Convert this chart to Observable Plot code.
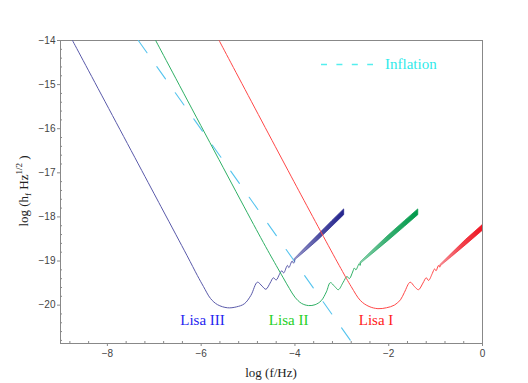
<!DOCTYPE html>
<html><head><meta charset="utf-8">
<script src="https://cdn.jsdelivr.net/npm/d3@7"></script>
<script src="https://cdn.jsdelivr.net/npm/@observablehq/plot@0.6"></script>
<style>body{margin:0;background:#fff} svg{display:block}</style>
</head><body><div id="chart"></div>
<script>
// log f, log h
const lisa3 = [
  [-8.744,-14.0],[-6.86,-17.76],[-6.30,-18.88],[-6.08,-19.33],[-5.95,-19.58],[-5.80,-19.85],
  [-5.65,-19.99],[-5.44,-20.06],[-5.25,-20.04],[-5.08,-19.97],[-4.94,-19.78],[-4.80,-19.48],
  [-4.70,-19.57],[-4.62,-19.64],[-4.53,-19.50],[-4.46,-19.38],[-4.40,-19.43],[-4.33,-19.30],
  [-4.28,-19.22],[-4.24,-19.27],[-4.16,-19.10],[-4.13,-19.15],[-4.06,-19.00],[-4.03,-19.05],[-4.00,-18.97]
];
const lisa3Band = [[-4.00,-18.99,-18.95],[-3.80,-18.81,-18.73],[-3.50,-18.53,-18.41],[-3.20,-18.22,-18.09],[-2.95,-17.96,-17.83]];

const lisa2 = [
  [-6.97,-14.0],[-4.73,-18.47],[-4.40,-19.10],[-4.25,-19.38],[-4.12,-19.62],[-4.00,-19.82],
  [-3.86,-19.96],[-3.71,-20.01],[-3.57,-19.99],[-3.44,-19.90],[-3.33,-19.70],[-3.245,-19.49],
  [-3.15,-19.58],[-3.075,-19.65],[-2.97,-19.48],[-2.89,-19.35],[-2.84,-19.40],[-2.77,-19.25],
  [-2.733,-19.16],[-2.70,-19.20],[-2.63,-19.06],[-2.61,-19.10],[-2.60,-19.05]
];
const lisa2Band = [[-2.60,-19.07,-19.03],[-2.35,-18.85,-18.77],[-2.00,-18.54,-18.42],[-1.65,-18.22,-18.09],[-1.37,-17.96,-17.83]];

const lisa1 = [
  [-5.617,-14.0],[-3.87,-17.50],[-3.02,-19.17],[-2.80,-19.58],[-2.60,-19.90],[-2.42,-20.03],
  [-2.23,-20.08],[-2.05,-20.06],[-1.88,-20.00],[-1.75,-19.88],[-1.665,-19.71],[-1.543,-19.48],
  [-1.45,-19.58],[-1.365,-19.65],[-1.27,-19.50],[-1.20,-19.38],[-1.15,-19.44],[-1.07,-19.28],
  [-1.023,-19.18],[-0.99,-19.22],[-0.94,-19.10],[-0.915,-19.14],[-0.90,-19.11]
];
const lisa1Band = [[-0.90,-19.13,-19.09],[-0.65,-18.91,-18.83],[-0.35,-18.64,-18.52],[0.0,-18.32,-18.19]];

const inflation = [[-7.34,-14.0],[-2.77,-20.87]];

const curveLabels = [
  {name:"Lisa III", f:-5.97, h:-20.34},
  {name:"Lisa II", f:-4.135, h:-20.34},
  {name:"Lisa I", f:-2.27, h:-20.34}
];
const labelColors = ["#2525f0","#25d025","#ff2020"];

const xMajor = [-8,-6,-4,-2,0];
const xMinor = [-8.8,-8.4,-7.6,-7.2,-6.8,-6.4,-5.6,-5.2,-4.8,-4.4,-3.6,-3.2,-2.8,-2.4,-1.6,-1.2,-0.8,-0.4];
const yMajor = [-20,-19,-18,-17,-16,-15,-14];
const yMinor = [-20.8,-20.6,-20.4,-20.2,-19.8,-19.6,-19.4,-19.2,-18.8,-18.6,-18.4,-18.2,-17.8,-17.6,-17.4,-17.2,
  -16.8,-16.6,-16.4,-16.2,-15.8,-15.6,-15.4,-15.2,-14.8,-14.6,-14.4,-14.2];

const P = a => a.map(d => ({f:d[0], h:d[1]}));
const B = a => a.map(d => ({f:d[0], lo:d[1], hi:d[2]}));

const bandColors = {g3: "#23238c", g2: "#00994a", g1: "#ee1522"};
const defs = () => {
  const d = d3.create("svg:defs");
  for (const [id, c] of Object.entries(bandColors)) {
    const g = d.append("linearGradient").attr("id", id).attr("x1", 0).attr("x2", 1).attr("y1", 0).attr("y2", 0);
    g.append("stop").attr("offset", 0).attr("stop-color", c).attr("stop-opacity", 0.45);
    g.append("stop").attr("offset", 0.5).attr("stop-color", c).attr("stop-opacity", 0.8);
    g.append("stop").attr("offset", 1).attr("stop-color", c).attr("stop-opacity", 1);
  }
  return d.node();
};

const W = 528, H = 383, ML = 60, MR = 46, MT = 40, MB = 40;
const chart = Plot.plot({
  width: W, height: H, marginLeft: ML, marginRight: MR, marginTop: MT, marginBottom: MB,
  x: {domain: [-9, 0]},
  y: {domain: [-20.87, -14]},
  style: {fontFamily: "'Liberation Sans', Arial, sans-serif", fontSize: "10px", color: "#444", background: "#fff"},
  marks: [
    defs,
    Plot.ruleX(xMinor, {stroke: "#888", insetTop: H - MT - MB - 2}),
    Plot.ruleY(yMinor, {stroke: "#888", insetRight: W - ML - MR - 2}),
    Plot.axisX(xMajor, {tickSize: 3, tickPadding: 3, label: null, stroke: "#888"}),
    Plot.axisY(yMajor, {tickSize: 3, tickPadding: 2, label: null, stroke: "#888"}),
    Plot.frame({stroke: "#888"}),
    Plot.line(P(inflation), {x: "f", y: "h", stroke: "#55c4ee", strokeWidth: 1.1, strokeDasharray: "15,17", clip: true}),
    Plot.areaY(B(lisa3Band), {x: "f", y1: "lo", y2: "hi", fill: "url(#g3)", stroke: "url(#g3)", strokeWidth: 0.8, clip: true}),
    Plot.areaY(B(lisa2Band), {x: "f", y1: "lo", y2: "hi", fill: "url(#g2)", stroke: "url(#g2)", strokeWidth: 0.8, clip: true}),
    Plot.areaY(B(lisa1Band), {x: "f", y1: "lo", y2: "hi", fill: "url(#g1)", stroke: "url(#g1)", strokeWidth: 0.8, clip: true}),
    Plot.line(P(lisa3), {x: "f", y: "h", stroke: "#5a5aaa", strokeWidth: 1, curve: "catmull-rom", clip: true}),
    Plot.line(P(lisa2), {x: "f", y: "h", stroke: "#2fb065", strokeWidth: 1, curve: "catmull-rom", clip: true}),
    Plot.line(P(lisa1), {x: "f", y: "h", stroke: "#ff4848", strokeWidth: 1, curve: "catmull-rom", clip: true}),
    Plot.text(curveLabels, {x: "f", y: "h", text: "name", fill: (d, i) => labelColors[i],
      fontFamily: "'Liberation Serif', 'Times New Roman', serif", fontSize: 15})
  ]
});
document.getElementById("chart").appendChild(chart);

const svg = d3.select(chart);
const serif = "'Liberation Serif', 'Times New Roman', serif";
// x axis title
svg.append("text").attr("x", 271).attr("y", 377).attr("text-anchor", "middle")
  .attr("font-family", serif).attr("font-size", 13).attr("fill", "#222").text("log (f/Hz)");
// y axis title
const yl = svg.append("text").attr("transform", "translate(28,191) rotate(-90)").attr("text-anchor", "middle")
  .attr("font-family", serif).attr("font-size", 13).attr("fill", "#222");
yl.append("tspan").text("log (h");
yl.append("tspan").attr("font-size", 9).attr("dy", 3).text("f");
yl.append("tspan").attr("dy", -3).text(" Hz");
yl.append("tspan").attr("font-size", 9).attr("dy", -6).text("1/2");
yl.append("tspan").attr("dy", 6).text(" )");
// legend
svg.append("line").attr("x1", 321).attr("x2", 373).attr("y1", 64.5).attr("y2", 64.5)
  .attr("stroke", "#55eeee").attr("stroke-width", 1.3).attr("stroke-dasharray", "6,9.4");
svg.append("text").attr("x", 385).attr("y", 69).attr("text-anchor", "start").attr("font-family", serif).attr("font-size", 15)
  .attr("fill", "#30eaea").text("Inflation");
</script>
</body></html>
